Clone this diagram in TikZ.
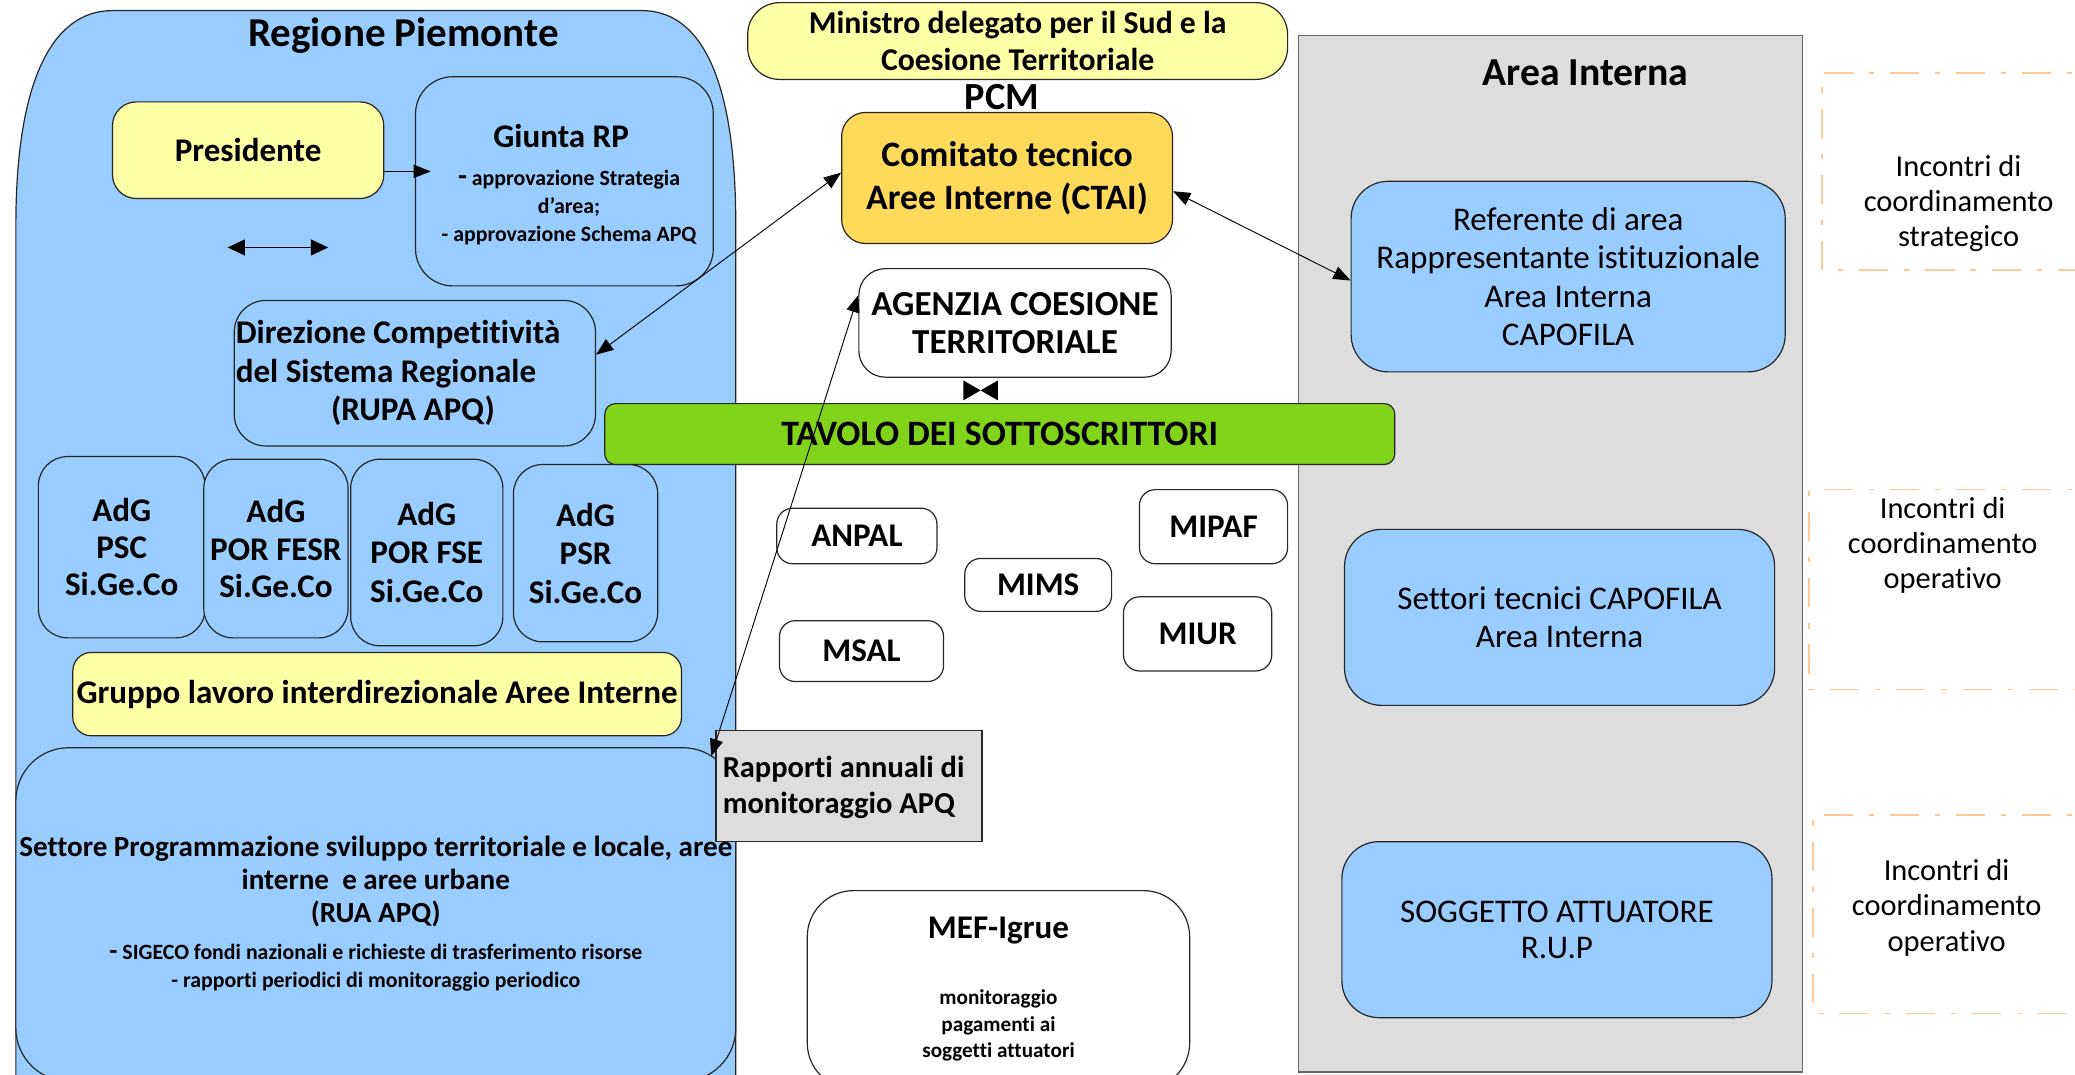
\documentclass[tikz,border=0pt]{standalone}
\usepackage{fontspec}
\setmainfont{Carlito}[Ligatures=NoCommon]
\usetikzlibrary{arrows.meta}
\definecolor{rpblue}{HTML}{99CCFF}
\definecolor{rpyellow}{HTML}{FFFFA6}
\definecolor{rpgold}{HTML}{FFD95A}
\definecolor{rpgreen}{HTML}{81D41A}
\definecolor{rpgray}{HTML}{DDDDDD}
\definecolor{rporange}{HTML}{FFC899}
\newcommand\fsz[2]{\fontsize{#1}{#2}\selectfont}
\tikzset{
  rbox/.style={draw=black!85, line width=0.9pt, rounded corners=#1, inner sep=0pt, align=center},
  rbox/.default=20,
  bluebox/.style={rbox=#1, fill=rpblue},
  bluebox/.default=22,
  yellowbox/.style={rbox=#1, fill=rpyellow},
  yellowbox/.default=18,
  whitebox/.style={rbox=#1, fill=white},
  whitebox/.default=12,
  txt/.style={inner sep=0pt, align=center},
  arr/.style={line width=0.7pt, {Triangle[length=13pt,width=10pt]}-{Triangle[length=13pt,width=10pt]}},
  onearr/.style={line width=0.7pt, -{Triangle[length=13pt,width=10pt]}},
  dashbox/.style={draw=rporange, line width=1.2pt, dash pattern=on 22pt off 12pt on 4pt off 12pt}
}
\begin{document}
\begin{tikzpicture}[x=1pt,y=-1pt]
\useasboundingbox (0,0) rectangle (1568,812);
\clip (0,0) rectangle (1568,812);
\fill[white] (0,0) rectangle (1568,812);

% ---------- Regione Piemonte container ----------
\draw[fill=rpblue, draw=black!85, line width=0.9pt]
  (12,850) -- (12,170) .. controls (12,60) and (40,8) .. (85,8)
  -- (485,8) .. controls (530,8) and (556,60) .. (556,170) -- (556,850);
\node[txt, font=\bfseries\fsz{31}{36}] (regtitle) at (305,27) {Regione Piemonte};

\node[yellowbox, minimum width=205pt, minimum height=73pt, font=\bfseries\fsz{25}{30}] (pres) at (187.5,113.5) {Presidente};
\node[bluebox=28, minimum width=225pt, minimum height=158pt] (giunta) at (426.5,137) {};
\node[txt, font=\bfseries\fsz{25}{30}] (giuntat) at (424,103) {Giunta RP};
\node[txt, font=\bfseries\fsz{16.5}{21}] (giuntal) at (430,157) {{\fsz{22}{21}-} approvazione Strategia\\ d’area;\\ - approvazione Schema APQ};

\node[bluebox=24, minimum width=273pt, minimum height=110pt] (dir) at (313.5,282) {};
\node[txt, anchor=west, align=left, font=\bfseries\fsz{25}{29}] (dirt) at (178,282) {Direzione Competitività\\del Sistema Regionale\\\hspace*{72pt}(RUPA APQ)};

\node[bluebox, minimum width=126pt, minimum height=137pt, font=\bfseries\fsz{25}{28}] (adg1) at (92,413.5) {AdG\\PSC\\Si.Ge.Co};
\node[bluebox, minimum width=109pt, minimum height=135pt, font=\bfseries\fsz{25}{28}] (adg2) at (208.5,414.5) {AdG\\POR FESR\\Si.Ge.Co};
\node[bluebox, minimum width=115pt, minimum height=141pt, font=\bfseries\fsz{25}{29}] (adg3) at (322.5,417.5) {AdG\\POR FSE\\Si.Ge.Co};
\node[bluebox, minimum width=109pt, minimum height=134pt, font=\bfseries\fsz{25}{29}] (adg4) at (442.5,418) {AdG\\PSR\\Si.Ge.Co};

\node[yellowbox=14, minimum width=460pt, minimum height=63pt, font=\bfseries\fsz{25}{30}] (gruppo) at (285,524.5) {Gruppo lavoro interdirezionale Aree Interne};

\node[bluebox=40, minimum width=544pt, minimum height=252pt] (settore) at (284,691) {};
\node[txt, font=\bfseries\fsz{22}{25}] (settoret) at (284,666) {Settore Programmazione sviluppo territoriale e locale, aree\\interne\ \ e aree urbane\\(RUA APQ)};
\node[txt, font=\bfseries\fsz{16.5}{21}] (settorel) at (284,731) {{\fsz{20}{21}-} SIGECO fondi nazionali e richieste di trasferimento risorse\\- rapporti periodici di monitoraggio periodico};

% standalone double arrow
\coordinate (da1) at (172,187);
\coordinate (da2) at (248,187);
\draw[line width=0.9pt, {Triangle[length=13pt,width=12pt]}-{Triangle[length=13pt,width=12pt]}] (da1) -- (da2);

% ---------- PCM column ----------
\node[yellowbox=24, minimum width=408pt, minimum height=58pt, font=\bfseries\fsz{24}{28}] (min) at (769,31) {Ministro delegato per il Sud e la\\Coesione Territoriale};
\node[txt, font=\bfseries\fsz{29}{30}] (pcm) at (757,73) {PCM};
\node[rbox=18, fill=rpgold, minimum width=250pt, minimum height=99pt, font=\bfseries\fsz{27}{32}] (ctai) at (761,134.5) {Comitato tecnico\\Aree Interne (CTAI)};
\node[whitebox=20, minimum width=236pt, minimum height=82pt, font=\bfseries\fsz{26.5}{29}] (agenzia) at (767,244) {AGENZIA COESIONE\\TERRITORIALE};

% ---------- Area Interna ----------
\node[draw=black!60, line width=0.9pt, fill=rpgray, minimum width=381pt, minimum height=783pt, inner sep=0pt] (area) at (1171.5,418.5) {};
\node[txt, font=\bfseries\fsz{30}{34}] (areat) at (1198,55) {Area Interna};
\node[bluebox=28, minimum width=328pt, minimum height=144pt, font=\fsz{25}{29}] (ref) at (1185,209) {Referente di area\\Rappresentante istituzionale\\Area Interna\\CAPOFILA};
\node[bluebox=28, minimum width=325pt, minimum height=133pt, font=\fsz{25}{29}] (sett) at (1178.5,466.5) {Settori tecnici CAPOFILA\\Area Interna};
\node[bluebox=28, minimum width=325pt, minimum height=133pt, font=\fsz{25}{27}] (sogg) at (1176.5,702.5) {SOGGETTO ATTUATORE\\R.U.P};

% ---------- Tavolo ----------
\node[rbox=8, fill=rpgreen, minimum width=597pt, minimum height=46pt, font=\bfseries\fsz{27}{30}] (tavolo) at (755.5,328) {TAVOLO DEI SOTTOSCRITTORI};
\coordinate (bt) at (741,295);
\fill (728,287.5) -- (bt) -- (728,302.5) -- cycle;
\fill (754,287.5) -- (bt) -- (754,302.5) -- cycle;

% ---------- Ministries ----------
\node[whitebox, minimum width=121pt, minimum height=42pt, font=\bfseries\fsz{25}{30}] (anpal) at (647.5,405) {ANPAL};
\node[whitebox, minimum width=111pt, minimum height=40pt, font=\bfseries\fsz{25}{30}] (mims) at (784.5,442) {MIMS};
\node[whitebox, minimum width=112pt, minimum height=56pt, font=\bfseries\fsz{25}{30}] (mipaf) at (917,398) {MIPAF};
\node[whitebox, minimum width=124pt, minimum height=46pt, font=\bfseries\fsz{25}{30}] (msal) at (651,492) {MSAL};
\node[whitebox, minimum width=112pt, minimum height=56pt, font=\bfseries\fsz{25}{30}] (miur) at (905,479) {MIUR};

% ---------- Rapporti ----------
\node[draw=black!85, line width=0.9pt, fill=rpgray, minimum width=201pt, minimum height=84pt, inner sep=0pt] (rapp) at (641.5,594) {};
\node[txt, anchor=west, align=left, font=\bfseries\fsz{23}{27}] (rappt) at (546,595) {Rapporti annuali di\\monitoraggio APQ};

% ---------- MEF ----------
\node[whitebox=35, minimum width=289pt, minimum height=150pt] (mef) at (754.5,748) {};
\node[txt, font=\bfseries\fsz{25}{30}] (meft) at (754.5,703) {MEF-Igrue};
\node[txt, font=\bfseries\fsz{16}{20}] (mefl) at (754.5,775) {monitoraggio\\ pagamenti ai\\soggetti attuatori};

% ---------- Dashed coordination boxes ----------
\draw[dashbox] (1600,55) -- (1377,55) -- (1377,204) -- (1600,204);
\node[txt, font=\fsz{23}{26.5}] (inc1) at (1480,154) {Incontri di\\coordinamento\\strategico};
\draw[dashbox] (1600,370) -- (1367,370) -- (1367,521) -- (1600,521);
\node[txt, font=\fsz{23}{26.5}] (inc2) at (1468,412) {Incontri di\\coordinamento\\operativo};
\draw[dashbox] (1600,616) -- (1370,616) -- (1370,766) -- (1600,766);
\node[txt, font=\fsz{23}{26.5}] (inc3) at (1471,686) {Incontri di\\coordinamento\\operativo};

% ---------- Connectors ----------
\draw[onearr] ([yshift=-16pt]pres.east) -- ([yshift=-16pt,xshift=12pt]pres.east -| giunta.west);
\draw[arr] ([yshift=14pt]dir.east) -- ([yshift=4pt]ctai.west);
\draw[arr] ([yshift=-10pt]ctai.east) -- ([yshift=-3pt]ref.west);
\draw[arr] ([xshift=-19pt,yshift=-7pt]settore.north east) -- ([yshift=21pt]agenzia.west);
\end{tikzpicture}
\end{document}
